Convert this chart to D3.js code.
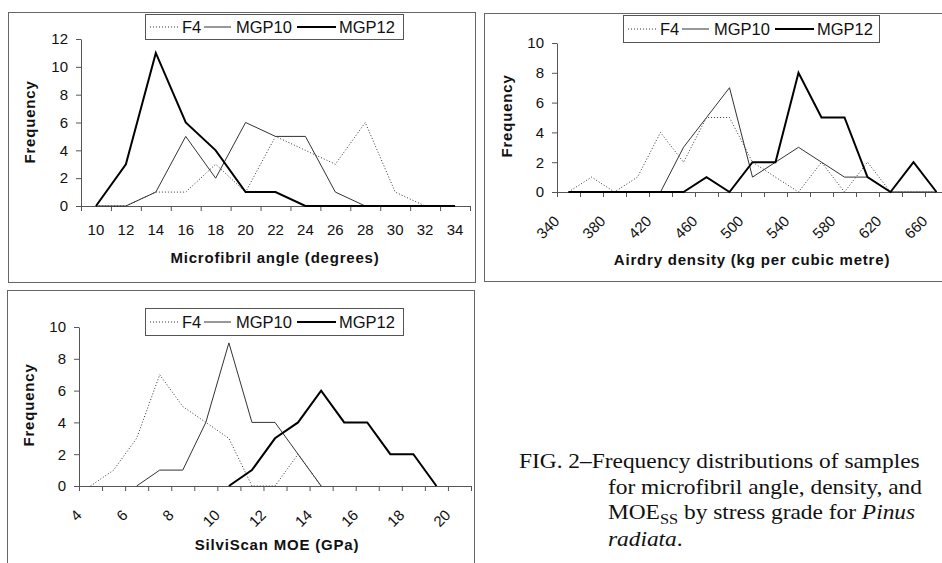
<!DOCTYPE html>
<html>
<head>
<meta charset="utf-8">
<script src="https://cdn.jsdelivr.net/npm/d3@7"></script>
<style>
  body { margin: 0; background: #fff; }
  svg { display: block; }
</style>
</head>
<body>
<div id="figure"></div>
<script>
// Data (frequency counts per class)

// microfibril angle classes (degrees)
var mfaAngles = [10, 12, 14, 16, 18, 20, 22, 24, 26, 28, 30, 32, 34];
var mfaF4 = [0, 0, 1, 1, 3, 1, 5, 4, 3, 6, 1, 0, 0];
var mfaMGP10 = [0, 0, 1, 5, 2, 6, 5, 5, 1, 0, 0, 0, 0];
var mfaMGP12 = [0, 3, 11, 6, 4, 1, 1, 0, 0, 0, 0, 0, 0];

// airdry density classes (kg per cubic metre)
var densityBins = [340, 360, 380, 400, 420, 440, 460, 480, 500, 520, 540, 560, 580, 600, 620, 640, 660];
var densityF4 = [0, 1, 0, 1, 4, 2, 5, 5, 2, 1, 0, 2, 0, 2, 0, 0, 0];
var densityMGP10 = [0, 0, 0, 0, 0, 3, 5, 7, 1, 2, 3, 2, 1, 1, 0, 0, 0];
var densityMGP12 = [0, 0, 0, 0, 0, 0, 1, 0, 2, 2, 8, 5, 5, 1, 0, 2, 0];

// SilviScan MOE classes (GPa)
var moeBins = [4, 5, 6, 7, 8, 9, 10, 11, 12, 13, 14, 15, 16, 17, 18, 19, 20];
var moeF4 = [0, 1, 3, 7, 5, 4, 3, 0, 0, 2, 0, null, null, null, null, null, null];
var moeMGP10 = [null, null, 0, 1, 1, 4, 9, 4, 4, 2, 0, null, null, null, null, null, null];
var moeMGP12 = [null, null, null, null, null, null, 0, 1, 3, 4, 6, 4, 4, 2, 2, 0, null];

var seriesNames = ["F4", "MGP10", "MGP12"];

// line styles per grade
var lineStyle = {
  F4: { stroke: "#333", width: 1, dash: "1,2" },
  MGP10: { stroke: "#333", width: 1, dash: null },
  MGP12: { stroke: "#000", width: 2, dash: null }
};

var sansFont = "'Liberation Sans', Arial, sans-serif";
var serifFont = "'Liberation Serif', 'Times New Roman', serif";

var svg = d3.select("#figure")
  .append("svg")
  .attr("width", 942)
  .attr("height", 563);

svg.append("rect")
  .attr("width", 942)
  .attr("height", 563)
  .attr("fill", "#fff");

function drawPanel(p) {
  var g = svg.append("g");

  // chart area border
  g.append("rect")
    .attr("x", p.box.x + 0.5)
    .attr("y", p.box.y + 0.5)
    .attr("width", p.box.w)
    .attr("height", p.box.h)
    .attr("fill", "#fff")
    .attr("stroke", "#666")
    .attr("stroke-width", 1);

  // scales
  var x = d3.scaleBand().domain(p.cats).range([p.left, p.right]).padding(0);
  var edges = d3.scaleLinear().domain([0, p.cats.length]).range([p.left, p.right]);
  var y = d3.scaleLinear().domain([0, p.yMax]).range([p.bottom, p.top]);

  // y axis
  var yAxis = g.append("g")
    .attr("transform", `translate(${p.left},0)`)
    .call(d3.axisLeft(y)
      .tickValues(d3.range(0, p.yMax + 1, 2))
      .tickSize(5)
      .tickSizeOuter(0)
      .tickPadding(8));
  yAxis.attr("color", "#555").attr("font-family", sansFont).attr("font-size", 15);
  yAxis.selectAll("text").attr("fill", "#111");

  // x axis line with ticks between categories
  var xAxis = g.append("g")
    .attr("transform", `translate(0,${p.bottom})`)
    .call(d3.axisBottom(edges)
      .tickValues(d3.range(p.cats.length + 1))
      .tickFormat("")
      .tickSize(5)
      .tickSizeOuter(0));
  xAxis.attr("color", "#555");

  // category labels
  var labelAxis = g.append("g")
    .attr("transform", `translate(0,${p.bottom})`)
    .call(d3.axisBottom(x)
      .tickValues(p.labels)
      .tickSize(0)
      .tickPadding(18));
  labelAxis.select(".domain").remove();
  labelAxis.attr("font-family", sansFont).attr("font-size", 15);
  labelAxis.selectAll("text").attr("fill", "#111");
  if (p.rotate) {
    labelAxis.selectAll("text")
      .attr("y", 0)
      .attr("dy", 0)
      .attr("text-anchor", "end")
      .attr("transform", "translate(-8,30) rotate(-45)");
  }

  // series lines
  seriesNames.forEach(function (name) {
    var values = p.series[name];
    var s = lineStyle[name];
    var line = d3.line()
      .defined((d) => d !== null)
      .x((d, i) => x(p.cats[i]) + x.bandwidth() / 2)
      .y((d) => y(d));
    g.append("path")
      .datum(values)
      .attr("d", line)
      .attr("fill", "none")
      .attr("stroke", s.stroke)
      .attr("stroke-width", s.width)
      .attr("stroke-dasharray", s.dash);
  });

  // axis titles
  g.append("text")
    .attr("x", p.xTitle[0])
    .attr("y", p.xTitle[1])
    .attr("text-anchor", "middle")
    .attr("font-family", sansFont)
    .attr("font-size", 15)
    .attr("font-weight", "bold")
    .attr("letter-spacing", "0.8px")
    .attr("fill", "#111")
    .text(p.xLabel);

  g.append("text")
    .attr("transform", `translate(${p.yTitle[0]},${p.yTitle[1]}) rotate(-90)`)
    .attr("text-anchor", "middle")
    .attr("font-family", sansFont)
    .attr("font-size", 15)
    .attr("font-weight", "bold")
    .attr("letter-spacing", "0.8px")
    .attr("fill", "#111")
    .text("Frequency");

  // legend
  var lg = g.append("g").attr("transform", `translate(${p.legend[0]},${p.legend[1]})`);
  lg.append("rect")
    .attr("x", 0.5)
    .attr("y", 0.5)
    .attr("width", p.legend[2])
    .attr("height", p.legend[3])
    .attr("fill", "#fff")
    .attr("stroke", "#555");
  var items = [
    { name: "F4", x0: 5, x1: 33, tx: 37 },
    { name: "MGP10", x0: 59, x1: 86, tx: 91 },
    { name: "MGP12", x0: 152, x1: 191, tx: 194 }
  ];
  var midY = p.legend[3] / 2 + 0.5;
  items.forEach(function (it) {
    var s = lineStyle[it.name];
    lg.append("line")
      .attr("x1", it.x0)
      .attr("x2", it.x1)
      .attr("y1", midY)
      .attr("y2", midY)
      .attr("stroke", s.stroke)
      .attr("stroke-width", s.width)
      .attr("stroke-dasharray", s.dash);
    lg.append("text")
      .attr("x", it.tx)
      .attr("y", midY + 6)
      .attr("font-family", sansFont)
      .attr("font-size", 16.5)
      .attr("fill", "#111")
      .text(it.name);
  });
}

drawPanel({
  box: { x: 8, y: 12, w: 467, h: 270 },
  left: 81, right: 470, top: 39, bottom: 206,
  yMax: 12,
  cats: mfaAngles,
  labels: mfaAngles,
  rotate: false,
  series: { F4: mfaF4, MGP10: mfaMGP10, MGP12: mfaMGP12 },
  xLabel: "Microfibril angle (degrees)",
  xTitle: [275, 263],
  yTitle: [35, 122],
  legend: [145, 14, 258, 25]
});

drawPanel({
  box: { x: 484, y: 13, w: 480, h: 268 },
  left: 557, right: 948, top: 43, bottom: 192,
  yMax: 10,
  cats: densityBins,
  labels: densityBins.filter((d, i) => i % 2 === 0),
  rotate: true,
  series: { F4: densityF4, MGP10: densityMGP10, MGP12: densityMGP12 },
  xLabel: "Airdry density (kg per cubic metre)",
  xTitle: [752, 265],
  yTitle: [512, 116],
  legend: [623, 15, 256, 27]
});

drawPanel({
  box: { x: 7, y: 290, w: 467, h: 300 },
  left: 79, right: 471, top: 327, bottom: 486,
  yMax: 10,
  cats: moeBins,
  labels: moeBins.filter((d, i) => i % 2 === 0),
  rotate: true,
  series: { F4: moeF4, MGP10: moeMGP10, MGP12: moeMGP12 },
  xLabel: "SilviScan MOE (GPa)",
  xTitle: [277, 550],
  yTitle: [34, 405],
  legend: [145, 308, 258, 27]
});

// figure caption (kept inside the frame)
var cap = svg.append("g")
  .attr("transform", "translate(519,468) scale(1.17,1)")
  .attr("font-family", serifFont)
  .attr("font-size", 20)
  .attr("fill", "#111");

cap.append("text").attr("x", 0).attr("y", 0)
  .text("FIG. 2\u2013Frequency distributions of samples");
cap.append("text").attr("x", 76).attr("y", 26)
  .text("for microfibril angle, density, and");
var l3 = cap.append("text").attr("x", 76).attr("y", 51);
l3.append("tspan").text("MOE");
l3.append("tspan").attr("font-size", 14).attr("dy", 5).text("SS");
l3.append("tspan").attr("dy", -5).text(" by stress grade for ");
l3.append("tspan").attr("font-style", "italic").text("Pinus");
var l4 = cap.append("text").attr("x", 76).attr("y", 78);
l4.append("tspan").attr("font-style", "italic").text("radiata");
l4.append("tspan").text(".");
</script>
</body>
</html>
